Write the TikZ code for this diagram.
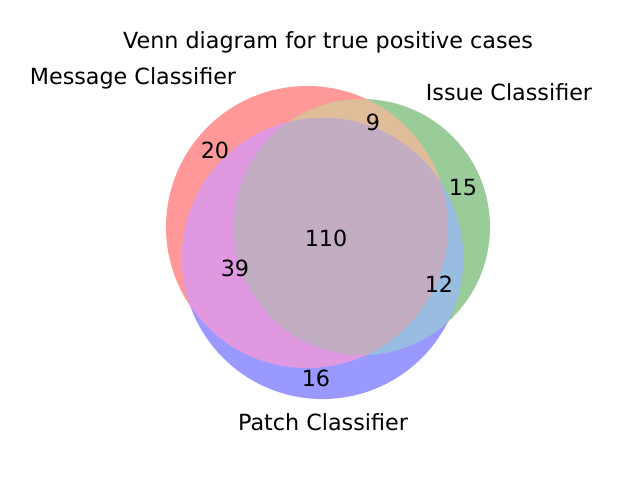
\documentclass[tikz,border=0pt]{standalone}
\usepackage{fontspec}
\setmainfont{DejaVu Sans}
\definecolor{cR}{RGB}{255,153,153}
\definecolor{cG}{RGB}{153,204,153}
\definecolor{cB}{RGB}{153,153,255}
\definecolor{cRG}{RGB}{224,189,153}
\definecolor{cRB}{RGB}{224,153,224}
\definecolor{cGB}{RGB}{153,189,224}
\definecolor{cRGB}{RGB}{194,173,194}
\begin{document}
\begin{tikzpicture}[x=0.75pt,y=-0.75pt,
  lbl/.style={font=\fontsize{16.7}{19}\selectfont, inner sep=0pt, anchor=center}]
\useasboundingbox (0,0) rectangle (640,480);
\def\cRc{(307,227) circle[radius=105.75pt]}
\def\cGc{(362,227) circle[radius=96pt]}
\def\cBc{(322.5,258.5) circle[radius=105.4pt]}
\fill[cR] \cRc;
\fill[cG] \cGc;
\fill[cB] \cBc;
\begin{scope}\clip \cRc; \fill[cRG] \cGc; \end{scope}
\begin{scope}\clip \cRc; \fill[cRB] \cBc; \end{scope}
\begin{scope}\clip \cGc; \fill[cGB] \cBc; \end{scope}
\begin{scope}\clip \cRc; \clip \cGc; \fill[cRGB] \cBc; \end{scope}
\node[lbl] (title) at (328,42) {Venn diagram for true positive cases};
\node[lbl] (msg) at (133,78) {Message Classifier};
\node[lbl] (iss) at (509,92) {Issue Classifier};
\node[lbl] (pat) at (323,422) {Patch Classifier};
\node[lbl] (n20) at (215,150) {20};
\node[lbl] (n9) at (373,122) {9};
\node[lbl] (n15) at (463,188) {15};
\node[lbl] (n110) at (326,238) {110};
\node[lbl] (n39) at (235,268) {39};
\node[lbl] (n12) at (439,284) {12};
\node[lbl] (n16) at (316,378) {16};
\end{tikzpicture}
\end{document}
